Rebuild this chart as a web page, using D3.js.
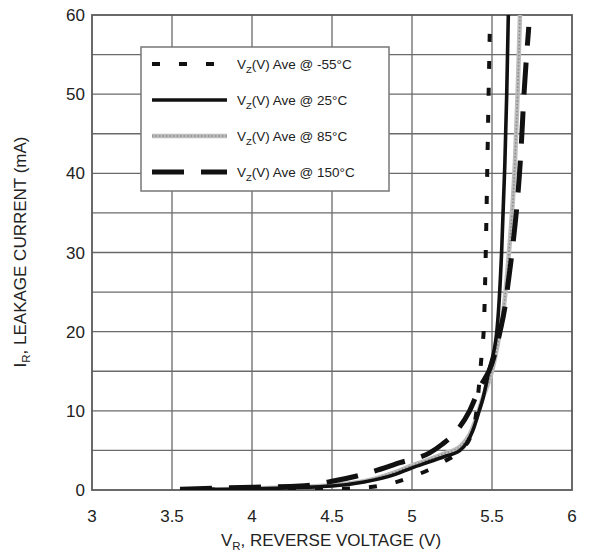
<!DOCTYPE html>
<html><head><meta charset="utf-8">
<script src="https://cdn.jsdelivr.net/npm/d3@7"></script>
<style>body{margin:0;background:#fff;}svg{display:block;font-family:"Liberation Sans",Arial,sans-serif;}</style>
</head><body>
<svg id="c" width="590" height="552"></svg>
<script>
const xTicks = [3, 3.5, 4, 4.5, 5, 5.5, 6];
const yTicks = [0, 10, 20, 30, 40, 50, 60];
const seriesNames = ["-55°C", "25°C", "85°C", "150°C"];
// [V, mA]
const tM55 = [[3.55,0.05],[4.0,0.08],[4.5,0.15],[4.7,0.3],[4.8,0.55],[4.9,1.0],[5.0,1.7],[5.1,2.5],[5.2,3.6],[5.27,4.4],[5.32,5.3],[5.37,7],[5.4,9.5],[5.42,13.5],[5.437,17.5],[5.45,21],[5.462,31],[5.47,40],[5.477,48],[5.488,60]];
const t25 = [[3.55,0.02],[4.0,0.15],[4.5,0.5],[4.7,1.0],[4.9,2.0],[5.0,2.8],[5.1,3.5],[5.2,4.2],[5.3,5.0],[5.38,7.5],[5.42,10],[5.44,11.3],[5.48,15],[5.53,20],[5.56,30],[5.58,41],[5.592,50],[5.602,60]];
const t85 = [[3.55,0.05],[4.0,0.2],[4.5,0.6],[4.7,1.1],[4.9,2.3],[5.0,3.1],[5.1,3.8],[5.2,4.6],[5.3,5.5],[5.36,7],[5.4,9],[5.44,11.5],[5.5,15],[5.55,20],[5.571,22.6],[5.606,30],[5.644,41.6],[5.66,50],[5.675,60]];
const t150 = [[3.55,0.1],[4.0,0.35],[4.3,0.5],[4.5,1.1],[4.7,2.0],[4.925,3.45],[5.11,4.7],[5.19,5.8],[5.28,7.5],[5.36,10],[5.42,12.8],[5.5,16],[5.55,20],[5.58,23],[5.6,26],[5.625,30],[5.68,42.5],[5.7,50],[5.73,58.5]];

const svg = d3.select("#c");
const L = 92, R = 572, T = 15, B = 490;
const x = d3.scaleLinear().domain([3, 6]).range([L, R]);
const y = d3.scaleLinear().domain([0, 60]).range([B, T]);

// grid
const g = svg.append("g");
g.selectAll(".vg").data(d3.range(3.5, 6, 0.5)).join("line")
  .attr("x1", d => x(d)).attr("x2", d => x(d)).attr("y1", T).attr("y2", B)
  .attr("stroke", "#6a6a6a").attr("stroke-width", 1.3);
g.selectAll(".hg").data(d3.range(5, 60, 5)).join("line")
  .attr("x1", L).attr("x2", R).attr("y1", d => y(d)).attr("y2", d => y(d))
  .attr("stroke", "#6a6a6a").attr("stroke-width", 1.3);
svg.append("rect").attr("x", L).attr("y", T).attr("width", R - L).attr("height", B - T)
  .attr("fill", "none").attr("stroke", "#5a5a5a").attr("stroke-width", 1.8);

// axes tick labels
svg.append("g").selectAll("text").data(xTicks).join("text")
  .attr("x", d => x(d)).attr("y", 522).attr("text-anchor", "middle")
  .attr("font-size", 17).attr("fill", "#222").text(d => d);
svg.append("g").selectAll("text").data(yTicks).join("text")
  .attr("x", 85).attr("y", d => y(d) + 6).attr("text-anchor", "end")
  .attr("font-size", 17).attr("fill", "#222").text(d => d);

// axis titles
const xt = svg.append("text").attr("x", 331).attr("y", 546).attr("text-anchor", "middle")
  .attr("font-size", 17).attr("fill", "#222");
xt.append("tspan").text("V");
xt.append("tspan").attr("font-size", 11.5).attr("dy", 4).text("R");
xt.append("tspan").attr("dy", -4).text(", REVERSE VOLTAGE (V)");
const yt = svg.append("text").attr("transform", "translate(26,252) rotate(-90)")
  .attr("text-anchor", "middle").attr("font-size", 17).attr("fill", "#222");
yt.append("tspan").text("I");
yt.append("tspan").attr("font-size", 11.5).attr("dy", 4).text("R");
yt.append("tspan").attr("dy", -4).text(", LEAKAGE CURRENT (mA)");

// clip
svg.append("clipPath").attr("id", "clip").append("rect")
  .attr("x", L).attr("y", T).attr("width", R - L).attr("height", B - T);

const line = d3.line().x(d => x(d[0])).y(d => y(d[1])).curve(d3.curveMonotoneX);
const styles = [
  {data: tM55, stroke: "#111", w: 4, dash: "8,19"},
  {data: t25, stroke: "#111", w: 3.6, dash: null},
  {data: t85, stroke: "#bdbdbd", w: 4.5, dash: null, tex: true},
  {data: t150, stroke: "#111", w: 5, dash: "32,17"}
];
const cg = svg.append("g").attr("clip-path", "url(#clip)");
const order = [2, 1, 0, 3];
order.forEach(i => {
  const s = styles[i];
  cg.append("path").attr("d", line(s.data)).attr("fill", "none")
    .attr("stroke", s.stroke).attr("stroke-width", s.w)
    .attr("stroke-dasharray", s.dash);
  if (s.tex) {
    cg.append("path").attr("d", line(s.data)).attr("fill", "none")
      .attr("stroke", "#8a8a8a").attr("stroke-width", 1.5).attr("stroke-dasharray", "1.5,2");
  }
});

// legend
const lg = svg.append("g");
lg.append("rect").attr("x", 141).attr("y", 47).attr("width", 248).attr("height", 144)
  .attr("fill", "#fff").attr("stroke", "#777").attr("stroke-width", 1.5);
const rowsY = [64, 100, 136, 172];
styles.forEach((s, i) => {
  lg.append("line").attr("x1", 152).attr("x2", 227).attr("y1", rowsY[i]).attr("y2", rowsY[i])
    .attr("stroke", s.stroke).attr("stroke-width", s.w).attr("stroke-dasharray", s.dash);
  if (s.tex) {
    lg.append("line").attr("x1", 152).attr("x2", 227).attr("y1", rowsY[i]).attr("y2", rowsY[i])
      .attr("stroke", "#8a8a8a").attr("stroke-width", 1.5).attr("stroke-dasharray", "1.5,2");
  }
  const t = lg.append("text").attr("x", 237).attr("y", rowsY[i] + 5)
    .attr("font-size", 13.5).attr("fill", "#222");
  t.append("tspan").text("V");
  t.append("tspan").attr("font-size", 9.5).attr("dy", 4).text("Z");
  t.append("tspan").attr("dy", -4).text("(V) Ave @ " + seriesNames[i]);
});
</script>
</body></html>
